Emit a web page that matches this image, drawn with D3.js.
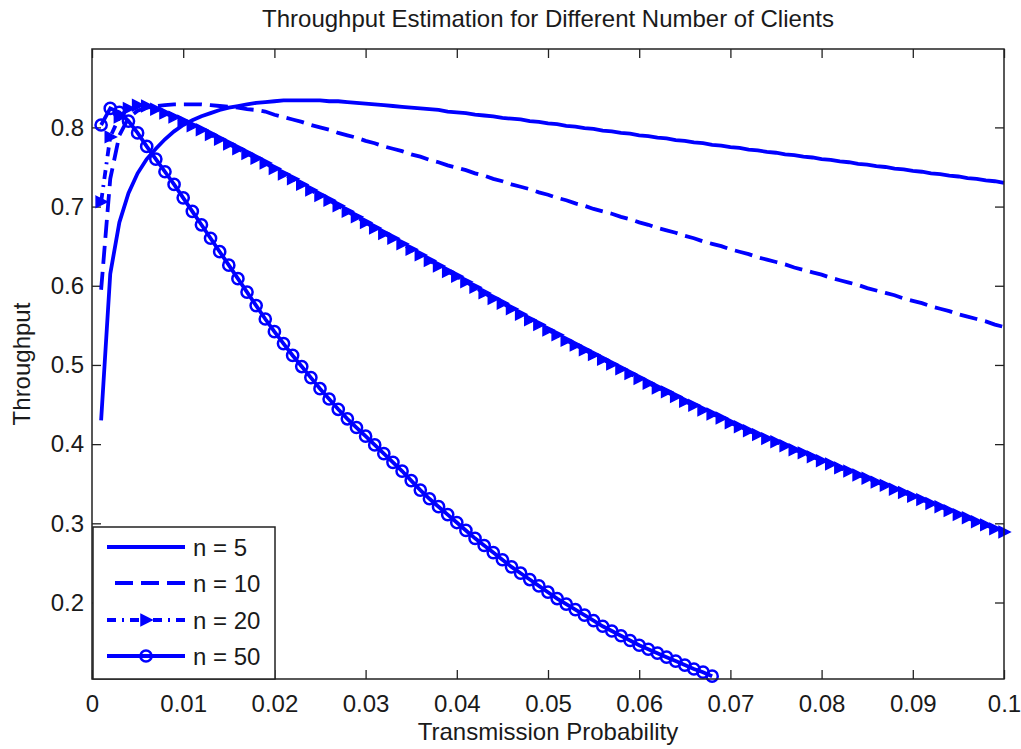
<!DOCTYPE html>
<html>
<head>
<meta charset="utf-8">
<script src="https://cdn.jsdelivr.net/npm/d3@7"></script>
<style>
  body { margin: 0; background: #fff; }
  text { font-family: "Liberation Sans", Arial, sans-serif; fill: #1a1a1a; }
</style>
</head>
<body>
<svg id="chart" width="1021" height="749"></svg>
<script>
// transmission probability grid, 0.001 .. 0.1
const probs = d3.range(1, 101).map((i) => i / 1000);

// throughput, one value per probability step
const n5 = [
  0.430, 0.615, 0.680, 0.717, 0.742, 0.760, 0.773, 0.785, 0.795, 0.803,
  0.809, 0.814, 0.818, 0.822, 0.825, 0.827, 0.829, 0.831, 0.832, 0.833,
  0.834, 0.834, 0.834, 0.834, 0.834, 0.833, 0.833, 0.832, 0.831, 0.830,
  0.829, 0.828, 0.827, 0.826, 0.825, 0.824, 0.823, 0.822, 0.820, 0.819,
  0.818, 0.816, 0.815, 0.814, 0.812, 0.811, 0.810, 0.808, 0.807, 0.805,
  0.804, 0.802, 0.801, 0.799, 0.798, 0.796, 0.795, 0.793, 0.792, 0.790,
  0.789, 0.787, 0.786, 0.784, 0.783, 0.781, 0.780, 0.778, 0.777, 0.775,
  0.774, 0.772, 0.771, 0.769, 0.768, 0.766, 0.765, 0.763, 0.762, 0.760,
  0.759, 0.757, 0.756, 0.754, 0.753, 0.751, 0.750, 0.748, 0.747, 0.745,
  0.744, 0.742, 0.741, 0.739, 0.738, 0.736, 0.735, 0.733, 0.732, 0.730
];
const n10 = [
  0.595, 0.735, 0.790, 0.812, 0.821, 0.825, 0.827, 0.828, 0.829, 0.829,
  0.829, 0.829, 0.828, 0.827, 0.826, 0.825, 0.823, 0.822, 0.820, 0.816,
  0.813, 0.810, 0.807, 0.803, 0.800, 0.797, 0.793, 0.790, 0.787, 0.783,
  0.780, 0.776, 0.773, 0.770, 0.766, 0.763, 0.759, 0.756, 0.752, 0.749,
  0.746, 0.742, 0.739, 0.735, 0.732, 0.728, 0.725, 0.722, 0.718, 0.715,
  0.711, 0.708, 0.704, 0.701, 0.697, 0.694, 0.691, 0.687, 0.684, 0.680,
  0.677, 0.673, 0.670, 0.667, 0.663, 0.660, 0.656, 0.653, 0.650, 0.646,
  0.643, 0.640, 0.636, 0.633, 0.630, 0.627, 0.623, 0.620, 0.617, 0.614,
  0.610, 0.607, 0.604, 0.601, 0.597, 0.594, 0.591, 0.588, 0.584, 0.581,
  0.578, 0.574, 0.571, 0.568, 0.564, 0.561, 0.558, 0.555, 0.551, 0.548
];
const n20 = [
  0.706, 0.788, 0.813, 0.824, 0.828, 0.827, 0.823, 0.818, 0.813, 0.808,
  0.802, 0.797, 0.791, 0.785, 0.779, 0.773, 0.767, 0.761, 0.755, 0.748,
  0.741, 0.735, 0.728, 0.721, 0.714, 0.708, 0.701, 0.694, 0.687, 0.680,
  0.673, 0.666, 0.660, 0.653, 0.646, 0.639, 0.632, 0.625, 0.618, 0.612,
  0.605, 0.598, 0.591, 0.584, 0.578, 0.571, 0.564, 0.557, 0.551, 0.544,
  0.538, 0.531, 0.525, 0.519, 0.513, 0.507, 0.501, 0.495, 0.489, 0.483,
  0.477, 0.471, 0.466, 0.460, 0.454, 0.449, 0.443, 0.438, 0.433, 0.427,
  0.422, 0.417, 0.412, 0.407, 0.403, 0.398, 0.393, 0.389, 0.384, 0.379,
  0.375, 0.370, 0.366, 0.361, 0.357, 0.352, 0.348, 0.343, 0.339, 0.334,
  0.330, 0.325, 0.321, 0.316, 0.311, 0.307, 0.302, 0.298, 0.293, 0.289
];
// n = 50 stops at p = 0.068
const n50 = [
  0.803, 0.824, 0.819, 0.808, 0.793, 0.776, 0.760, 0.744, 0.728, 0.711,
  0.694, 0.677, 0.660, 0.643, 0.626, 0.609, 0.592, 0.575, 0.558, 0.542,
  0.527, 0.512, 0.498, 0.484, 0.470, 0.457, 0.444, 0.432, 0.421, 0.410,
  0.399, 0.388, 0.377, 0.366, 0.354, 0.342, 0.331, 0.321, 0.311, 0.301,
  0.291, 0.281, 0.272, 0.263, 0.254, 0.245, 0.237, 0.229, 0.221, 0.213,
  0.205, 0.198, 0.191, 0.184, 0.177, 0.170, 0.164, 0.158, 0.152, 0.146,
  0.141, 0.136, 0.131, 0.126, 0.121, 0.116, 0.112, 0.107
];

const legendLabels = ['n = 5', 'n = 10', 'n = 20', 'n = 50'];
const xTicks = [0, 0.01, 0.02, 0.03, 0.04, 0.05, 0.06, 0.07, 0.08, 0.09, 0.1];
const yTicks = [0.2, 0.3, 0.4, 0.5, 0.6, 0.7, 0.8];

const blue = '#0000ff';
const svg = d3.select('#chart');

// plot box
const box = { left: 92, right: 1004, top: 49, bottom: 679 };
const x = d3.scaleLinear().domain([0, 0.1]).range([box.left, box.right]);
const y = d3.scaleLinear().domain([0.1034, 0.899]).range([box.bottom, box.top]);

// ticks pointing inward on all four sides
const tickLen = 9;
const fmt = (d) => (d === 0 ? '0' : String(+d.toFixed(2)));

svg.append('g')
  .attr('transform', `translate(0,${box.bottom})`)
  .call(d3.axisBottom(x).tickValues(xTicks).tickSizeInner(-tickLen).tickSizeOuter(0).tickPadding(16).tickFormat(fmt))
  .call((g) => g.select('.domain').remove());

svg.append('g')
  .attr('transform', `translate(0,${box.top})`)
  .call(d3.axisTop(x).tickValues(xTicks).tickSizeInner(-tickLen).tickSizeOuter(0).tickFormat(''))
  .call((g) => g.select('.domain').remove());

svg.append('g')
  .attr('transform', `translate(${box.left},0)`)
  .call(d3.axisLeft(y).tickValues(yTicks).tickSizeInner(-tickLen).tickSizeOuter(0).tickPadding(8).tickFormat(fmt))
  .call((g) => g.select('.domain').remove());

svg.append('g')
  .attr('transform', `translate(${box.right},0)`)
  .call(d3.axisRight(y).tickValues(yTicks).tickSizeInner(-tickLen).tickSizeOuter(0).tickFormat(''))
  .call((g) => g.select('.domain').remove());

svg.selectAll('.tick line').attr('stroke', '#222').attr('stroke-width', 1.3);
svg.selectAll('.tick text').style('font-size', '24px').attr('fill', '#1a1a1a');

// series
const series = [
  { label: legendLabels[0], values: n5, dash: null, marker: null },
  { label: legendLabels[1], values: n10, dash: '18,8', marker: null },
  { label: legendLabels[2], values: n20, dash: '9,6,2,6', marker: 'tri' },
  { label: legendLabels[3], values: n50, dash: null, marker: 'circle' }
];

const triPath = 'M-5,-5.5L6,0L-5,5.5Z';

const line = d3.line()
  .x((d) => x(d.p))
  .y((d) => y(d.v));

const plot = svg.append('g');

series.forEach((s) => {
  const pts = s.values.map((v, i) => ({ p: probs[i], v }));
  plot.append('path')
    .datum(pts)
    .attr('fill', 'none')
    .attr('stroke', blue)
    .attr('stroke-width', 3.8)
    .attr('stroke-dasharray', s.dash)
    .attr('d', line);

  if (s.marker === 'tri') {
    plot.selectAll(null)
      .data(pts)
      .enter()
      .append('path')
      .attr('transform', (d) => `translate(${x(d.p)},${y(d.v)})`)
      .attr('d', triPath)
      .attr('fill', blue)
      .attr('stroke', blue)
      .attr('stroke-width', 1.5);
  }
  if (s.marker === 'circle') {
    plot.selectAll(null)
      .data(pts)
      .enter()
      .append('circle')
      .attr('cx', (d) => x(d.p))
      .attr('cy', (d) => y(d.v))
      .attr('r', 5.6)
      .attr('fill', 'none')
      .attr('stroke', blue)
      .attr('stroke-width', 2.5);
  }
});

// axes box
svg.append('rect')
  .attr('x', box.left)
  .attr('y', box.top)
  .attr('width', box.right - box.left)
  .attr('height', box.bottom - box.top)
  .attr('fill', 'none')
  .attr('stroke', '#222')
  .attr('stroke-width', 1.5);

// legend
const legend = svg.append('g');
legend.append('rect')
  .attr('x', box.left + 1)
  .attr('y', 527)
  .attr('width', 182)
  .attr('height', box.bottom - 527)
  .attr('fill', '#fff')
  .attr('stroke', '#222')
  .attr('stroke-width', 1.5);

const rowY = [547, 583, 620, 656];
series.forEach((s, i) => {
  const ly = rowY[i];
  legend.append('line')
    .attr('x1', s.dash === '18,8' ? 115 : 107)
    .attr('x2', 185)
    .attr('y1', ly)
    .attr('y2', ly)
    .attr('stroke', blue)
    .attr('stroke-width', 3.8)
    .attr('stroke-dasharray', s.dash);
  if (s.marker === 'tri') {
    legend.append('path')
      .attr('transform', `translate(146,${ly})`)
      .attr('d', triPath)
      .attr('fill', blue)
      .attr('stroke', blue)
      .attr('stroke-width', 1.5);
  }
  if (s.marker === 'circle') {
    legend.append('circle')
      .attr('cx', 146)
      .attr('cy', ly)
      .attr('r', 5.6)
      .attr('fill', 'none')
      .attr('stroke', blue)
      .attr('stroke-width', 2.5);
  }
  legend.append('text')
    .attr('x', 193)
    .attr('y', ly + 9)
    .style('font-size', '24px')
    .text(s.label);
});

// title and axis labels
svg.append('text')
  .attr('x', (box.left + box.right) / 2)
  .attr('y', 27)
  .attr('text-anchor', 'middle')
  .style('font-size', '24px')
  .text('Throughput Estimation for Different Number of Clients');

svg.append('text')
  .attr('x', (box.left + box.right) / 2)
  .attr('y', 740)
  .attr('text-anchor', 'middle')
  .style('font-size', '24px')
  .text('Transmission Probability');

svg.append('text')
  .attr('transform', `translate(30,${(box.top + box.bottom) / 2}) rotate(-90)`)
  .attr('text-anchor', 'middle')
  .style('font-size', '24px')
  .text('Throughput');
</script>
</body>
</html>
